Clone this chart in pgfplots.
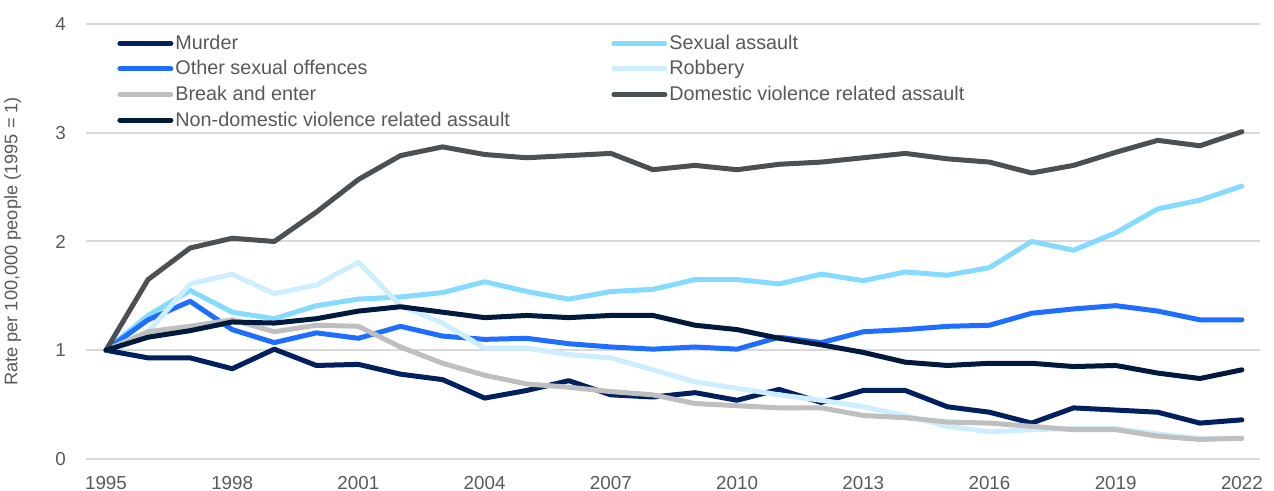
\documentclass[border=0pt]{standalone}
\usepackage{fontspec}
\setmainfont{Liberation Sans}
\usepackage{pgfplots}
\pgfplotsset{compat=1.18}

\definecolor{txt}{HTML}{595959}
\definecolor{gridc}{HTML}{D9D9D9}
\definecolor{murder}{HTML}{002060}
\definecolor{sexass}{HTML}{85DBFF}
\definecolor{othsex}{HTML}{1E6EFF}
\definecolor{robbery}{HTML}{CCEEFF}
\definecolor{breakin}{HTML}{BFBFBF}
\definecolor{dvass}{HTML}{4B5054}
\definecolor{ndvass}{HTML}{001A3D}

\newcommand{\colone}[1]{\makebox[217pt][l]{#1}}

\begin{document}
\begin{tikzpicture}
\useasboundingbox (-43pt,-16pt) rectangle (594pt,229.5pt);
\begin{axis}[
  at={(0,0)}, anchor=south west,
  scale only axis, width=587pt, height=217.5pt,
  xmin=1994.525, xmax=2022.43, ymin=0, ymax=4,
  xtick={1995,1998,...,2022}, ytick={0,1,2,3,4},
  axis line style={draw=none},
  major tick length=0pt,
  ymajorgrids, grid style={line width=1pt, gridc},
  /pgf/number format/assume math mode=true,
  /pgf/number format/1000 sep={},
  tick label style={font=\fontsize{9.4}{11}\selectfont, text=txt},
  xticklabel style={yshift=-5pt},
  yticklabel style={xshift=-6.5pt},
  ylabel={Rate per 100,000 people (1995 = 1)},
  ylabel style={at={(axis description cs:-0.0625,0.5)}, anchor=center,
    font=\fontsize{9.1}{11}\selectfont, text=txt},
  every axis plot/.append style={line width=2.5pt, line join=round, line cap=round},
  legend columns=2,
  legend image code/.code={\draw[#1] (1.25pt,0pt) -- (26.75pt,0pt);},
  legend style={at={(axis description cs:0,1)}, anchor=north west,
    xshift=15.5pt, yshift=-3.5pt,
    draw=none, fill=none, inner sep=0pt, row sep=0.8pt,
    font=\fontsize{9.9}{12}\selectfont, text=txt,
    nodes={inner sep=1pt, text height=8pt, text depth=2pt}},
  legend cell align=left,
]
\addplot[murder] coordinates {
  (1995,1.00)(1996,0.93)(1997,0.93)(1998,0.83)(1999,1.01)(2000,0.86)(2001,0.87)
  (2002,0.78)(2003,0.73)(2004,0.56)(2005,0.63)(2006,0.72)(2007,0.59)(2008,0.57)
  (2009,0.61)(2010,0.54)(2011,0.64)(2012,0.52)(2013,0.63)(2014,0.63)(2015,0.48)
  (2016,0.43)(2017,0.33)(2018,0.47)(2019,0.45)(2020,0.43)(2021,0.33)(2022,0.36)};
\addlegendentry{\colone{Murder}}
\addplot[sexass] coordinates {
  (1995,1.00)(1996,1.32)(1997,1.55)(1998,1.35)(1999,1.29)(2000,1.41)(2001,1.47)
  (2002,1.49)(2003,1.53)(2004,1.63)(2005,1.54)(2006,1.47)(2007,1.54)(2008,1.56)
  (2009,1.65)(2010,1.65)(2011,1.61)(2012,1.70)(2013,1.64)(2014,1.72)(2015,1.69)
  (2016,1.76)(2017,2.00)(2018,1.92)(2019,2.08)(2020,2.30)(2021,2.38)(2022,2.51)};
\addlegendentry{Sexual assault}
\addplot[othsex] coordinates {
  (1995,1.00)(1996,1.28)(1997,1.45)(1998,1.19)(1999,1.07)(2000,1.16)(2001,1.11)
  (2002,1.22)(2003,1.13)(2004,1.10)(2005,1.11)(2006,1.06)(2007,1.03)(2008,1.01)
  (2009,1.03)(2010,1.01)(2011,1.12)(2012,1.07)(2013,1.17)(2014,1.19)(2015,1.22)
  (2016,1.23)(2017,1.34)(2018,1.38)(2019,1.41)(2020,1.36)(2021,1.28)(2022,1.28)};
\addlegendentry{\colone{Other sexual offences}}
\addplot[robbery] coordinates {
  (1995,1.00)(1996,1.17)(1997,1.61)(1998,1.70)(1999,1.52)(2000,1.60)(2001,1.81)
  (2002,1.41)(2003,1.25)(2004,1.02)(2005,1.02)(2006,0.96)(2007,0.93)(2008,0.82)
  (2009,0.71)(2010,0.65)(2011,0.59)(2012,0.54)(2013,0.48)(2014,0.40)(2015,0.30)
  (2016,0.25)(2017,0.27)(2018,0.28)(2019,0.28)(2020,0.23)(2021,0.19)(2022,0.19)};
\addlegendentry{Robbery}
\addplot[breakin] coordinates {
  (1995,1.00)(1996,1.17)(1997,1.22)(1998,1.28)(1999,1.17)(2000,1.23)(2001,1.22)
  (2002,1.03)(2003,0.88)(2004,0.77)(2005,0.69)(2006,0.66)(2007,0.62)(2008,0.59)
  (2009,0.51)(2010,0.49)(2011,0.47)(2012,0.47)(2013,0.40)(2014,0.38)(2015,0.34)
  (2016,0.33)(2017,0.30)(2018,0.27)(2019,0.27)(2020,0.21)(2021,0.18)(2022,0.19)};
\addlegendentry{\colone{Break and enter}}
\addplot[dvass] coordinates {
  (1995,1.00)(1996,1.65)(1997,1.94)(1998,2.03)(1999,2.00)(2000,2.27)(2001,2.57)
  (2002,2.79)(2003,2.87)(2004,2.80)(2005,2.77)(2006,2.79)(2007,2.81)(2008,2.66)
  (2009,2.70)(2010,2.66)(2011,2.71)(2012,2.73)(2013,2.77)(2014,2.81)(2015,2.76)
  (2016,2.73)(2017,2.63)(2018,2.70)(2019,2.82)(2020,2.93)(2021,2.88)(2022,3.01)};
\addlegendentry{Domestic violence related assault}
\addplot[ndvass] coordinates {
  (1995,1.00)(1996,1.12)(1997,1.18)(1998,1.26)(1999,1.25)(2000,1.29)(2001,1.36)
  (2002,1.40)(2003,1.35)(2004,1.30)(2005,1.32)(2006,1.30)(2007,1.32)(2008,1.32)
  (2009,1.23)(2010,1.19)(2011,1.11)(2012,1.05)(2013,0.98)(2014,0.89)(2015,0.86)
  (2016,0.88)(2017,0.88)(2018,0.85)(2019,0.86)(2020,0.79)(2021,0.74)(2022,0.82)};
\addlegendentry{\colone{Non-domestic violence related assault}}
\end{axis}
\end{tikzpicture}
\end{document}
